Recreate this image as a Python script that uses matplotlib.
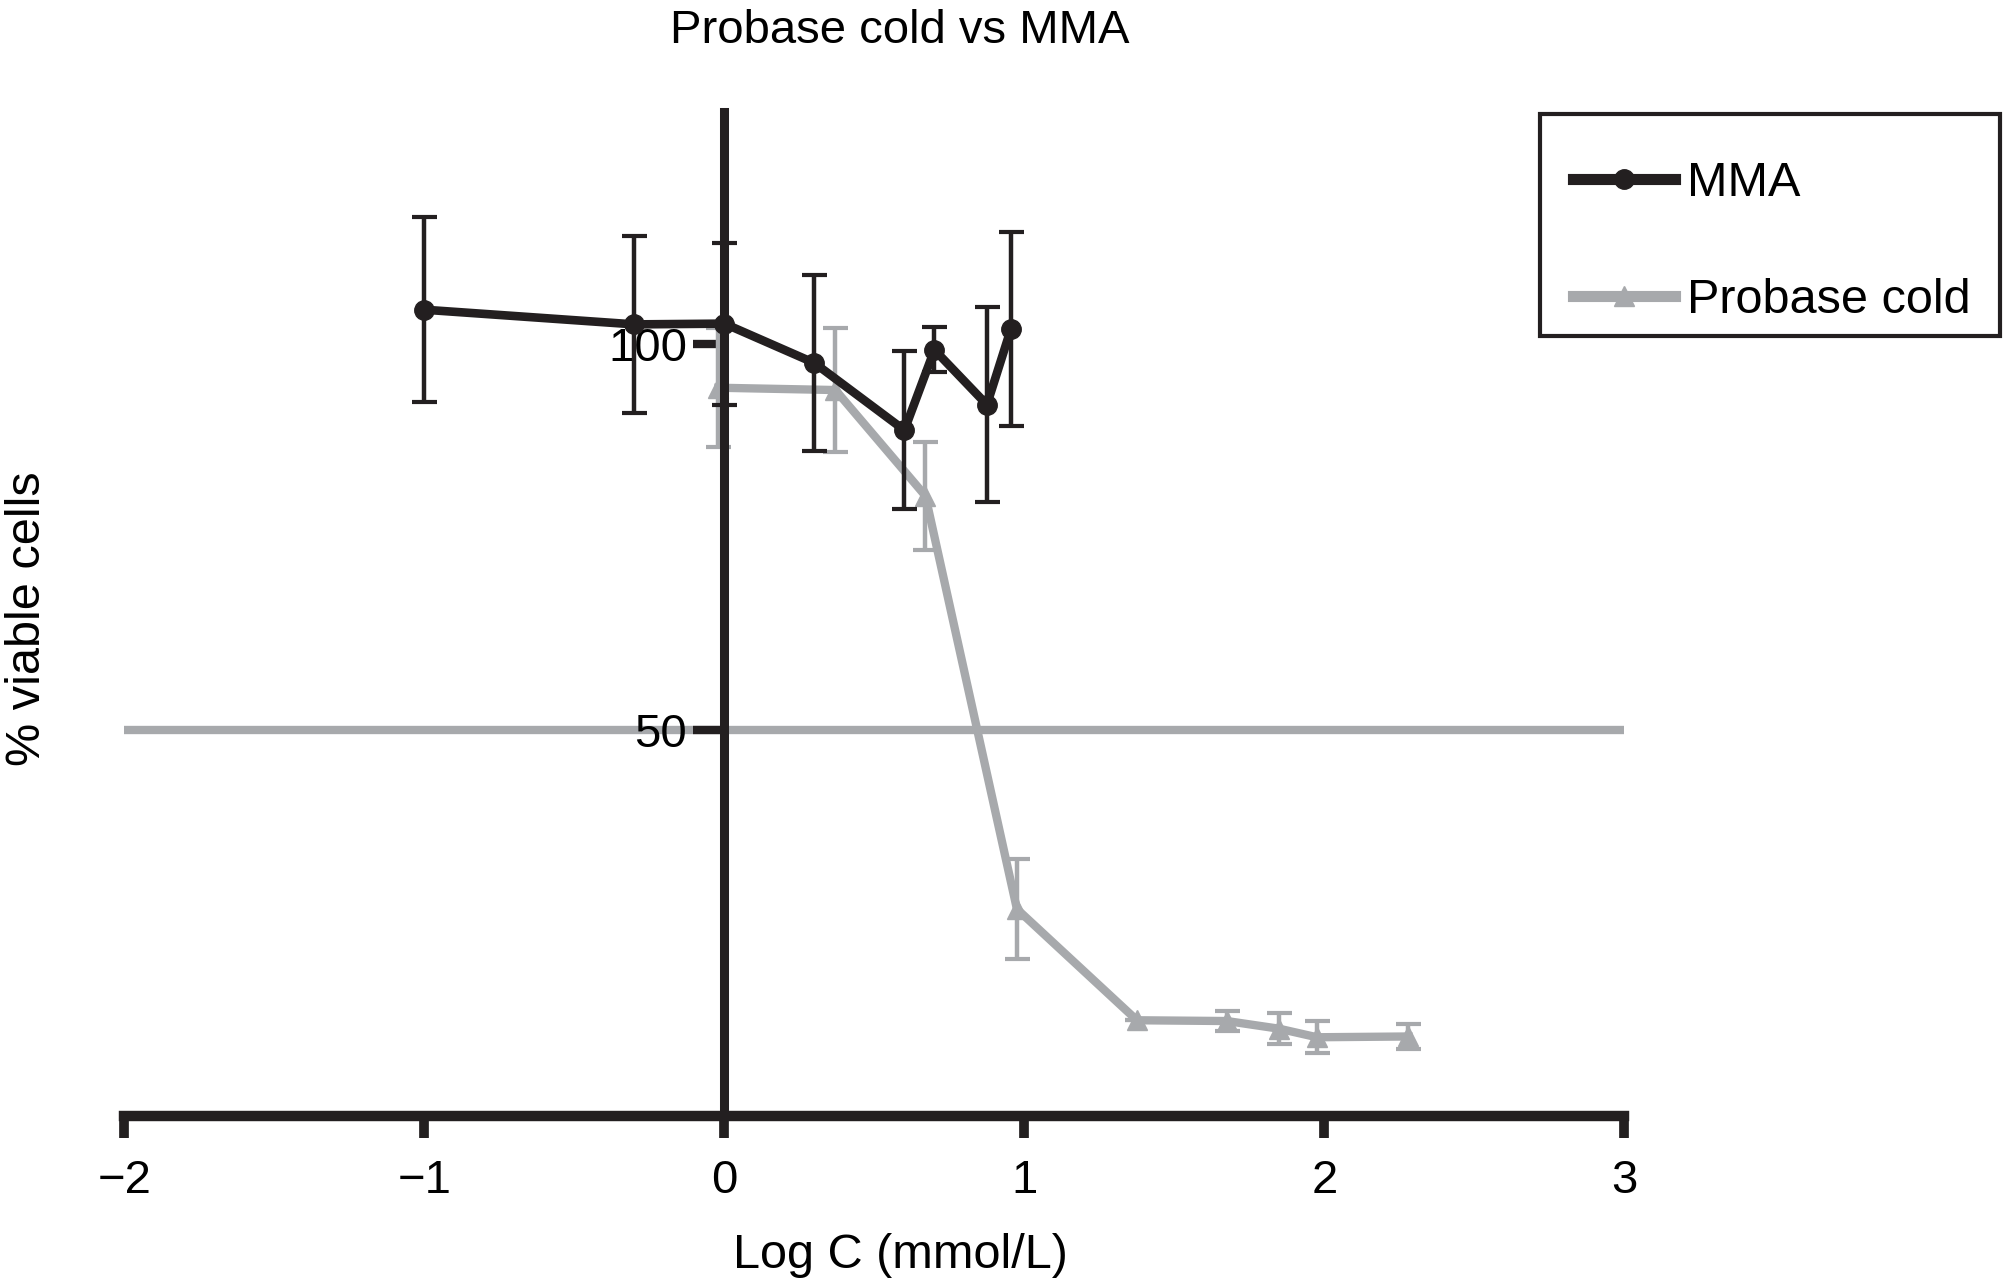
import matplotlib
matplotlib.use('Agg')
import matplotlib.pyplot as plt
from matplotlib.lines import Line2D
from matplotlib.patches import Rectangle

plt.rcParams['font.family'] = ['Liberation Sans', 'DejaVu Sans']

# MMA (log concentration, % viable cells, error)
mma_logc = [-1.0, -0.30, 0.0, 0.30, 0.60, 0.70, 0.875, 0.955]
mma_viable = [104.4, 102.5, 102.6, 97.5, 88.8, 99.2, 92.1, 101.9]
mma_err = [12.0, 11.5, 10.5, 11.4, 10.2, 2.9, 12.6, 12.5]

# Probase cold
probase_logc = [-0.02, 0.37, 0.67, 0.975, 1.375, 1.675, 1.85, 1.975, 2.28]
probase_viable = [94.3, 94.0, 80.3, 26.8, 12.4, 12.3, 11.3, 10.2, 10.3]
probase_err = [7.7, 8.0, 7.0, 6.5, 0.0, 1.35, 2.0, 2.05, 1.6]

x_ticks = [-2, -1, 0, 1, 2, 3]
y_ticks = [50, 100]

black = '#231f20'
grey = '#a7a9ac'

fig = plt.figure(figsize=(20.03, 12.8), dpi=100)
ax = fig.add_axes([0.0621, 0.1281, 0.7489, 0.7844])
ax.set_xlim(-2, 3)
ax.set_ylim(0, 130)

# 50% reference line
ax.axhline(50, color=grey, lw=6, zorder=1)

ax.errorbar(probase_logc, probase_viable, yerr=probase_err, color=grey,
            lw=6, marker='^', ms=15, elinewidth=3.2, capsize=9,
            capthick=3, zorder=2)
ax.errorbar(mma_logc, mma_viable, yerr=mma_err, color=black,
            lw=6.2, marker='o', ms=14, elinewidth=3.2, capsize=9,
            capthick=3, zorder=3)

# axes look
ax.spines['top'].set_visible(False)
ax.spines['right'].set_visible(False)
ax.spines['left'].set_position(('data', 0))
ax.spines['left'].set_linewidth(6.5)
ax.spines['bottom'].set_linewidth(7.5)
ax.spines['left'].set_color(black)
ax.spines['bottom'].set_color(black)

ax.set_xticks(x_ticks)
ax.set_yticks(y_ticks)
ax.tick_params(axis='x', direction='out', length=16, width=7, pad=15,
               labelsize=34, color=black)
ax.tick_params(axis='y', direction='out', length=22, width=6, pad=5,
               labelsize=34, color=black)

ax.set_xlabel('Log C (mmol/L)', fontsize=35, va='baseline')
ax.xaxis.set_label_coords(0.4494, 0.0094, transform=fig.transFigure)
ax.set_ylabel('% viable cells', fontsize=35, va='center')
ax.yaxis.set_label_coords(0.0137, 0.5168, transform=fig.transFigure)

fig.suptitle('Probase cold vs MMA', x=0.449, y=0.9664, va='baseline',
             fontsize=34)

# legend entries, with the box drawn separately
handles = [Line2D([], [], color=black, lw=8, marker='o', ms=14),
           Line2D([], [], color=grey, lw=8, marker='^', ms=15)]
fig.legend(handles, ['MMA', 'Probase cold'], loc='upper left',
           bbox_to_anchor=(0.7853, 0.8743), fontsize=35, frameon=False,
           borderpad=0, labelspacing=1.48, handlelength=2.1,
           handletextpad=0.24, numpoints=1, borderaxespad=0)
fig.add_artist(Rectangle((0.7689, 0.7375), 0.2297, 0.1734,
                         transform=fig.transFigure, fill=False,
                         lw=3, ec=black))

fig.savefig('out.png', dpi=100, facecolor='white')
